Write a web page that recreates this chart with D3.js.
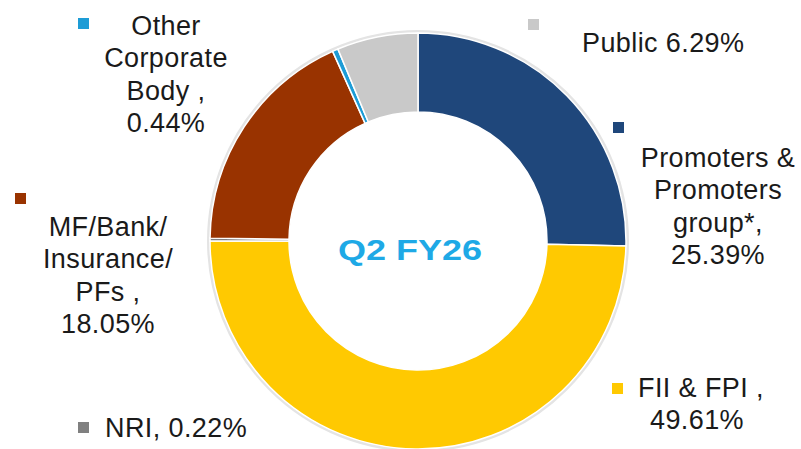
<!DOCTYPE html>
<html>
<head>
<meta charset="utf-8">
<script src="https://cdn.jsdelivr.net/npm/d3@7"></script>
<style>
body { margin: 0; background: #fff; }
svg { display: block; }
text { font-family: "Liberation Sans", Arial, sans-serif; }
</style>
</head>
<body>
<script>
const WIDTH = 801;
const HEIGHT = 449;
const CX = 418;
const CY = 241;
const OUTER = 208;
const INNER = 129;

// data, clockwise from 12 o'clock
var categories = ['Promoters & Promoters group*', 'FII & FPI', 'NRI', 'MF/Bank/ Insurance/ PFs', 'Other Corporate Body', 'Public'];
var shares = [25.39, 49.61, 0.22, 18.05, 0.44, 6.29];
var labelLines = [
	['Promoters &', 'Promoters', 'group*,', '25.39%'],
	['FII & FPI ,', '49.61%'],
	['NRI, 0.22%'],
	['MF/Bank/', 'Insurance/', 'PFs ,', '18.05%'],
	['Other', 'Corporate', 'Body ,', '0.44%'],
	['Public 6.29%']
];
var centerTitle = 'Q2 FY26';

var colors = ['#1f477b', '#ffc901', '#808080', '#993300', '#1d9cd6', '#c9c9c9'];

// label layout: text anchor x, first baseline, anchor type, marker x/y
var labelLayout = [
	{x: 718, y: 167, anchor: 'middle', mx: 613, my: 122},
	{x: 638, y: 397, anchor: 'start', mx: 612, my: 383, lineX: [638, 697], lineAnchor: ['start', 'middle']},
	{x: 105, y: 437, anchor: 'start', mx: 78, my: 422},
	{x: 108, y: 236, anchor: 'middle', mx: 15, my: 193},
	{x: 166, y: 35, anchor: 'middle', mx: 78, my: 18},
	{x: 582, y: 52, anchor: 'start', mx: 528, my: 19}
];
const LINE_H = 32.3;

var svg = d3.select('body').append('svg')
	.attr('width', WIDTH)
	.attr('height', HEIGHT);

var data = categories.map(function(c, i){ return {name: c, value: shares[i], i: i}; });

var pie = d3.pie()
	.value(function(d){ return d.value; })
	.sort(null)
	.startAngle(0)
	.endAngle(2 * Math.PI);

var arc = d3.arc()
	.innerRadius(INNER)
	.outerRadius(OUTER);

var ring = svg.append('g')
	.attr('transform', 'translate(' + CX + ',' + CY + ')');

// soft shadow round the ring
ring.append('circle')
	.attr('r', OUTER + 1.5)
	.style('fill', 'none')
	.style('stroke', '#e4e4e4')
	.style('stroke-width', 3);

ring.selectAll('path')
	.data(pie(data))
	.enter().append('path')
	.attr('d', arc)
	.style('fill', function(d){ return colors[d.data.i]; })
	.style('stroke', '#fff')
	.style('stroke-width', 1.5);

// title glyphs are drawn a bit wide in the original
ring.append('text')
	.attr('transform', 'translate(-8,19) scale(1.2,1)')
	.attr('text-anchor', 'middle')
	.style('font-size', '30px')
	.style('font-weight', 'bold')
	.style('fill', '#1ea9e6')
	.text(centerTitle);

var labels = svg.append('g');

data.forEach(function(d, i){
	var lay = labelLayout[i];
	labels.append('rect')
		.attr('x', lay.mx)
		.attr('y', lay.my)
		.attr('width', 11)
		.attr('height', 11)
		.style('fill', colors[i]);

	var t = labels.append('text')
		.style('font-size', '27px')
		.style('letter-spacing', '0.4px')
		.style('fill', '#1a1a1a')
		.style('white-space', 'pre');

	labelLines[i].forEach(function(line, j){
		t.append('tspan')
			.attr('x', lay.lineX ? lay.lineX[j] : lay.x)
			.attr('y', lay.y + j * LINE_H)
			.attr('text-anchor', lay.lineAnchor ? lay.lineAnchor[j] : lay.anchor)
			.text(line);
	});
});
</script>
</body>
</html>
